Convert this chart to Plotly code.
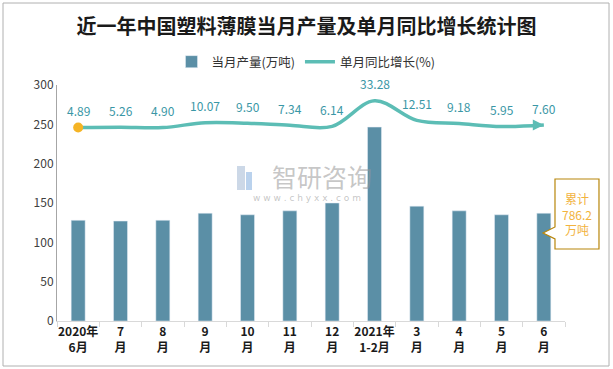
import plotly.graph_objects as go

categories = ["2020年<br>6月", "7<br>月", "8<br>月", "9<br>月", "10<br>月", "11<br>月", "12<br>月",
              "2021年<br>1-2月", "3<br>月", "4<br>月", "5<br>月", "6<br>月"]
production = [128, 127, 128, 137, 135, 140, 150, 246.5, 146, 140, 135, 137]
growth = [4.89, 5.26, 4.90, 10.07, 9.50, 7.34, 6.14, 33.28, 12.51, 9.18, 5.95, 7.60]
growth_labels = ["4.89", "5.26", "4.90", "10.07", "9.50", "7.34", "6.14", "33.28", "12.51", "9.18", "5.95", "7.60"]

W, H = 613, 369
L, R, T, B = 57, 565, 85, 321

def px(x):
    return (x - L) / (R - L)

def py(y):
    return (B - y) / (B - T)

BAR = "#5B8FA6"
LINE = "#5CBDB5"
LABEL = "#3A97A6"
CJK = "Noto Sans CJK SC"

fig = go.Figure()
fig.add_trace(go.Bar(x=categories, y=production, name="当月产量(万吨)",
                     marker=dict(color=BAR), width=0.33))
fig.add_trace(go.Scatter(x=categories, y=growth, name="单月同比增长(%)", yaxis="y2",
                         mode="lines", line=dict(color=LINE, width=3.5, shape="spline", smoothing=1.0)))
fig.add_trace(go.Scatter(x=[categories[0]], y=[growth[0]], yaxis="y2", mode="markers",
                         marker=dict(color="#F5B425", size=10), showlegend=False))
fig.add_trace(go.Scatter(x=[categories[-1]], y=[growth[-1]], yaxis="y2", mode="markers",
                         marker=dict(color=LINE, size=11, symbol="arrow-right"), showlegend=False))

annotations = []
for c, g, t in zip(categories, growth, growth_labels):
    annotations.append(dict(x=c, y=g, yref="y2", text=t, showarrow=False, yshift=17,
                            xanchor="center", font=dict(family=CJK, size=12, color=LABEL)))

# watermark
annotations.append(dict(xref="paper", yref="paper", x=px(322), y=py(176), text="智研咨询",
                        xanchor="center", showarrow=False,
                        font=dict(family=CJK, size=25, color="rgba(150,150,150,0.55)")))
annotations.append(dict(xref="paper", yref="paper", x=px(307), y=py(198),
                        text="w w w . c h y x x . c o m", showarrow=False, xanchor="center",
                        font=dict(family="DejaVu Sans", size=9, color="rgba(150,150,150,0.55)")))
# callout text
annotations.append(dict(xref="paper", yref="paper", x=px(577), y=py(214), xanchor="center", yanchor="middle",
                        text="累计<br>786.2<br>万吨", showarrow=False,
                        font=dict(family=CJK, size=12, color="#F2B33D")))

shapes = []
# outer border
shapes.append(dict(type="rect", xref="paper", yref="paper", x0=px(3), x1=px(609), y0=py(366), y1=py(3),
                   line=dict(color="#B0B0B0", width=1)))
# callout
pts = [(555, 179), (599, 179), (599, 249), (555, 249), (555, 239), (543, 233), (555, 227)]
path = "M " + " L ".join(f"{px(a):.4f},{py(b):.4f}" for a, b in pts) + " Z"
shapes.append(dict(type="path", xref="paper", yref="paper", path=path,
                   line=dict(color="#B8860B", width=1.2), fillcolor="white"))
# watermark logo approximation
shapes.append(dict(type="rect", xref="paper", yref="paper", x0=px(237), x1=px(245), y0=py(190), y1=py(166),
                   line=dict(width=0), fillcolor="rgba(170,190,215,0.6)"))
shapes.append(dict(type="rect", xref="paper", yref="paper", x0=px(246), x1=px(252), y0=py(190), y1=py(172),
                   line=dict(width=0), fillcolor="rgba(140,180,225,0.6)"))

fig.update_layout(
    width=W, height=H,
    margin=dict(l=L, r=W - R, t=T, b=H - B, autoexpand=False),
    paper_bgcolor="white", plot_bgcolor="white",
    title=dict(text="<b>近一年中国塑料薄膜当月产量及单月同比增长统计图</b>", x=0.5, xanchor="center",
               y=1 - 27 / H, yanchor="middle", font=dict(family=CJK, size=20, color="#1A1A1A")),
    legend=dict(orientation="h", x=px(306), xanchor="center", y=py(62), yanchor="middle",
                font=dict(family=CJK, size=12.5, color="#333333"), bgcolor="rgba(0,0,0,0)"),
    xaxis=dict(type="category", range=[-0.5, len(categories) - 0.5], showline=True, linecolor="#D9D9D9",
               ticks="outside", tickson="boundaries", ticklen=5, tickcolor="#D9D9D9", showgrid=False,
               tickangle=0, tickfont=dict(family=CJK, size=12, color="#1A1A1A", weight="bold")),
    yaxis=dict(range=[0, 300], dtick=50, showline=True, linecolor="#A6A6A6", showgrid=False,
               zeroline=False, ticks="", tickfont=dict(family=CJK, size=12, color="#404040")),
    yaxis2=dict(overlaying="y", range=[-200, 50], visible=False, showgrid=False),
    bargap=0.67,
    annotations=annotations, shapes=shapes,
)

fig.write_html("out.html", config={"displayModeBar": False})
with open("out.html", "r", encoding="utf-8") as f:
    html = f.read()
html = html.replace("<body>", '<body style="margin:0;padding:0;overflow:hidden">', 1)
with open("out.html", "w", encoding="utf-8") as f:
    f.write(html)
